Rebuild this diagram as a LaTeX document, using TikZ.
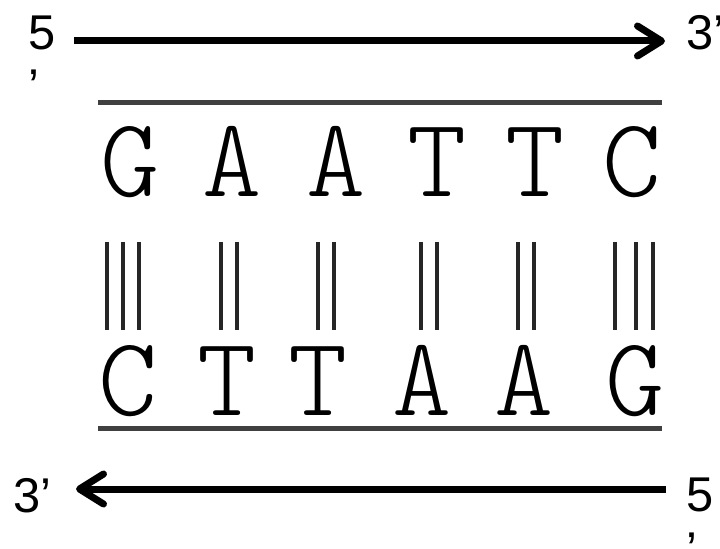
\documentclass[tikz,border=0pt]{standalone}
\usepackage{fontspec}
\setmainfont{Liberation Sans}
\newfontfamily\nuclfont{Latin Modern Mono Light}
\usetikzlibrary{arrows.meta}
\tikzset{
  endlabel/.style={inner sep=0pt, font=\fontsize{49}{55}\selectfont, align=left},
  nucl/.style={inner sep=0pt, anchor=base, font=\nuclfont\fontsize{113}{113}\selectfont},
  strand/.style={line width=5bp, draw=black!75},
  bond/.style={line width=3.5bp, draw=black!85},
  dirarrow/.style={line width=7bp, -{Straight Barb[length=24bp,width=30bp,round]}}
}
\begin{document}
\begin{tikzpicture}[x=1bp,y=-1bp]
\useasboundingbox (0,0) rectangle (720,549);
% end labels
\node[endlabel, anchor=base west] (t5) at (28,104) {5\\’};
\node[endlabel, anchor=base west] (t3) at (686,50) {3’};
\node[endlabel, anchor=base west] (b3) at (13,512) {3’};
\node[endlabel, anchor=base west] (b5) at (686,566) {5\\’};
% arrows
\coordinate (ta) at (74,41);
\coordinate (tb) at (665,41);
\coordinate (ba) at (666,489);
\coordinate (bb) at (76,489);
\draw[dirarrow] (ta) -- (tb);
\draw[dirarrow] (ba) -- (bb);
% strands
\coordinate (s1a) at (98,103);
\coordinate (s1b) at (662,103);
\coordinate (s2a) at (98,428);
\coordinate (s2b) at (662,428);
\draw[strand] (s1a) -- (s1b);
\draw[strand] (s2a) -- (s2b);
% top bases
\node[nucl] (g1) at (130,197) {G};
\node[nucl] (a1) at (232,197) {A};
\node[nucl] (a2) at (336,197) {A};
\node[nucl] (t1) at (437,197) {T};
\node[nucl] (t2) at (535,197) {T};
\node[nucl] (c1) at (632,197) {C};
% bottom bases
\node[nucl] (c2) at (128,415) {C};
\node[nucl] (t3b) at (227,415) {T};
\node[nucl] (t4b) at (318,415) {T};
\node[nucl] (a3) at (422,415) {A};
\node[nucl] (a4) at (524,415) {A};
\node[nucl] (g2) at (635,415) {G};
% hydrogen bonds
\foreach \x in {107,123,139,221,237,318,334,421,437,518,534,615,636,653}
  \draw[bond] (\x,242) -- (\x,330);
\end{tikzpicture}
\end{document}
